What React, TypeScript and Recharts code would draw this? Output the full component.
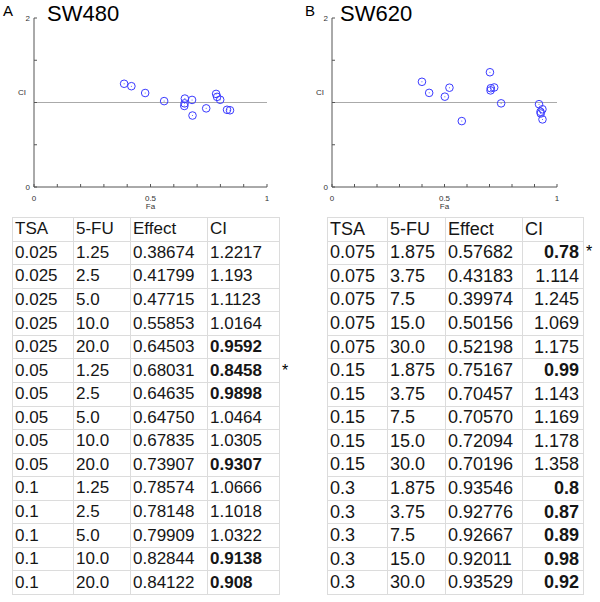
import React from 'react';
import { ScatterChart, Scatter, XAxis, YAxis, ReferenceLine } from 'recharts';

const tsa480 = ['0.025', '0.025', '0.025', '0.025', '0.025', '0.05', '0.05', '0.05', '0.05', '0.05', '0.1', '0.1', '0.1', '0.1', '0.1'];
const fu480 = ['1.25', '2.5', '5.0', '10.0', '20.0', '1.25', '2.5', '5.0', '10.0', '20.0', '1.25', '2.5', '5.0', '10.0', '20.0'];
const effect480 = [0.38674, 0.41799, 0.47715, 0.55853, 0.64503, 0.68031, 0.64635, 0.6475, 0.67835, 0.73907, 0.78574, 0.78148, 0.79909, 0.82844, 0.84122];
const ci480 = [1.2217, 1.193, 1.1123, 1.0164, 0.9592, 0.8458, 0.9898, 1.0464, 1.0305, 0.9307, 1.0666, 1.1018, 1.0322, 0.9138, 0.908];

const tsa620 = ['0.075', '0.075', '0.075', '0.075', '0.075', '0.15', '0.15', '0.15', '0.15', '0.15', '0.3', '0.3', '0.3', '0.3', '0.3'];
const fu620 = ['1.875', '3.75', '7.5', '15.0', '30.0', '1.875', '3.75', '7.5', '15.0', '30.0', '1.875', '3.75', '7.5', '15.0', '30.0'];
const effect620 = [0.57682, 0.43183, 0.39974, 0.50156, 0.52198, 0.75167, 0.70457, 0.7057, 0.72094, 0.70196, 0.93546, 0.92776, 0.92667, 0.92011, 0.93529];
const ci620 = [0.78, 1.114, 1.245, 1.069, 1.175, 0.99, 1.143, 1.169, 1.178, 1.358, 0.8, 0.87, 0.89, 0.98, 0.92];

const xTicks = [0, 0.1, 0.2, 0.3, 0.4, 0.5, 0.6, 0.7, 0.8, 0.9, 1];
const yTicks = [0, 0.5, 1, 1.5, 2];
const xLabelled = [0, 0.5, 1];
const yLabelled = [0, 2];

const FONT = '"Liberation Sans", Arial, sans-serif';
const AXIS = '#555';
const PLOT_TOP = 18;
const PLOT_BOTTOM = 187;

const Ring = (props: any) => {
  const { cx, cy } = props;
  return (
    <g>
      <circle cx={cx} cy={cy} r={3.8} fill="none" stroke="#3a3aff" strokeWidth={1} />
      <circle cx={cx} cy={cy} r={0.5} fill="#3a3aff" />
    </g>
  );
};

const CiPlot = ({ effect, ci, left, right }: { effect: number[]; ci: number[]; left: number; right: number }) => {
  const data = effect.map((fa, i) => ({ fa, ci: ci[i] }));

  const xTick = (p: any) => {
    const v = p.payload.value;
    const x = p.payload.coordinate ?? p.x;
    return (
      <g>
        <line x1={x} x2={x} y1={PLOT_BOTTOM} y2={PLOT_BOTTOM - 3} stroke={AXIS} />
        {xLabelled.includes(v) && (
          <text x={x} y={PLOT_BOTTOM + 14} textAnchor="middle" fontSize={8} fill="#333">{String(v)}</text>
        )}
      </g>
    );
  };

  const yTick = (p: any) => {
    const v = p.payload.value;
    const y = p.payload.coordinate ?? p.y;
    return (
      <g>
        <line x1={left} x2={left + 3} y1={y} y2={y} stroke={AXIS} />
        {yLabelled.includes(v) && (
          <text x={left - 4} y={y + 3} textAnchor="end" fontSize={8} fill="#333">{String(v)}</text>
        )}
      </g>
    );
  };

  return (
    <ScatterChart width={300} height={215} margin={{ top: PLOT_TOP, right, bottom: 8, left: left - 20 }} style={{ fontFamily: FONT }}>
      <XAxis
        type="number"
        dataKey="fa"
        domain={[0, 1]}
        ticks={xTicks}
        height={20}
        tickLine={false}
        tick={xTick}
        interval={0}
        stroke={AXIS}
        label={() => (
          <text x={(left + 300 - right) / 2} y={PLOT_BOTTOM + 22} textAnchor="middle" fontSize={8} fill="#333">Fa</text>
        )}
      />
      <YAxis
        type="number"
        dataKey="ci"
        domain={[0, 2]}
        ticks={yTicks}
        width={20}
        tickLine={false}
        tick={yTick}
        interval={0}
        stroke={AXIS}
        label={() => (
          <text x={left - 8} y={95} textAnchor="end" fontSize={8} fill="#333">CI</text>
        )}
      />
      <ReferenceLine y={1} stroke="#aaa" strokeWidth={1} />
      <Scatter data={data} shape={Ring} isAnimationActive={false} />
    </ScatterChart>
  );
};

const cellBorder = '1px solid #dcdcdc';

const CiTable = ({ tsa, fu, effect, ci, left, widths, alignCi, fontSize }: {
  tsa: string[]; fu: string[]; effect: number[]; ci: number[]; left: number; widths: number[]; alignCi: 'left' | 'right'; fontSize: number;
}) => {
  const td = (align: 'left' | 'right' = 'left', bold = false): React.CSSProperties => ({
    border: cellBorder,
    padding: align === 'right' ? '0 4px 0 0' : '0 0 0 2px',
    textAlign: align,
    fontWeight: bold ? 'bold' : 'normal',
    whiteSpace: 'nowrap',
    overflow: 'visible',
  });
  return (
    <table
      style={{
        position: 'absolute',
        left,
        top: 217,
        borderCollapse: 'collapse',
        fontFamily: FONT,
        fontSize,
        color: '#161616',
        tableLayout: 'fixed',
        width: widths.reduce((a, b) => a + b, 0),
        height: 378,
        background: '#fff',
      }}
    >
      <colgroup>
        {widths.map((w, i) => <col key={i} style={{ width: w }} />)}
      </colgroup>
      <tbody>
        <tr>
          <td style={td()}>TSA</td>
          <td style={td()}>5-FU</td>
          <td style={td()}>Effect</td>
          <td style={td()}>CI</td>
        </tr>
        {tsa.map((t, i) => (
          <tr key={i}>
            <td style={td()}>{t}</td>
            <td style={td()}>{fu[i]}</td>
            <td style={td()}>{effect[i].toFixed(5)}</td>
            <td style={td(alignCi, ci[i] < 1)}>{String(ci[i])}</td>
          </tr>
        ))}
      </tbody>
    </table>
  );
};

const App = () => {
  return (
    <div style={{ position: 'absolute', left: 0, top: 0, width: 600, height: 602, background: '#fff', fontFamily: FONT }}>
      <div style={{ position: 'absolute', left: 0, top: 0 }}>
        <CiPlot effect={effect480} ci={ci480} left={34} right={33} />
      </div>
      <div style={{ position: 'absolute', left: 300, top: 0 }}>
        <CiPlot effect={effect620} ci={ci620} left={32} right={43} />
      </div>

      <div style={{ position: 'absolute', left: 3, top: 1, fontSize: 15, lineHeight: '20px' }}>A</div>
      <div style={{ position: 'absolute', left: 47, top: 1, fontSize: 22, lineHeight: '26px' }}>SW480</div>
      <div style={{ position: 'absolute', left: 305, top: 1, fontSize: 15, lineHeight: '20px' }}>B</div>
      <div style={{ position: 'absolute', left: 340, top: 1, fontSize: 22, lineHeight: '26px' }}>SW620</div>

      <CiTable tsa={tsa480} fu={fu480} effect={effect480} ci={ci480} left={12} widths={[61, 57, 77, 72]} alignCi="left" fontSize={17} />
      <CiTable tsa={tsa620} fu={fu620} effect={effect620} ci={ci620} left={327} widths={[60, 58, 77, 61]} alignCi="right" fontSize={18} />

      <div style={{ position: 'absolute', left: 282, top: 362, fontSize: 16 }}>*</div>
      <div style={{ position: 'absolute', left: 586, top: 243, fontSize: 16 }}>*</div>
    </div>
  );
};

export default App;
